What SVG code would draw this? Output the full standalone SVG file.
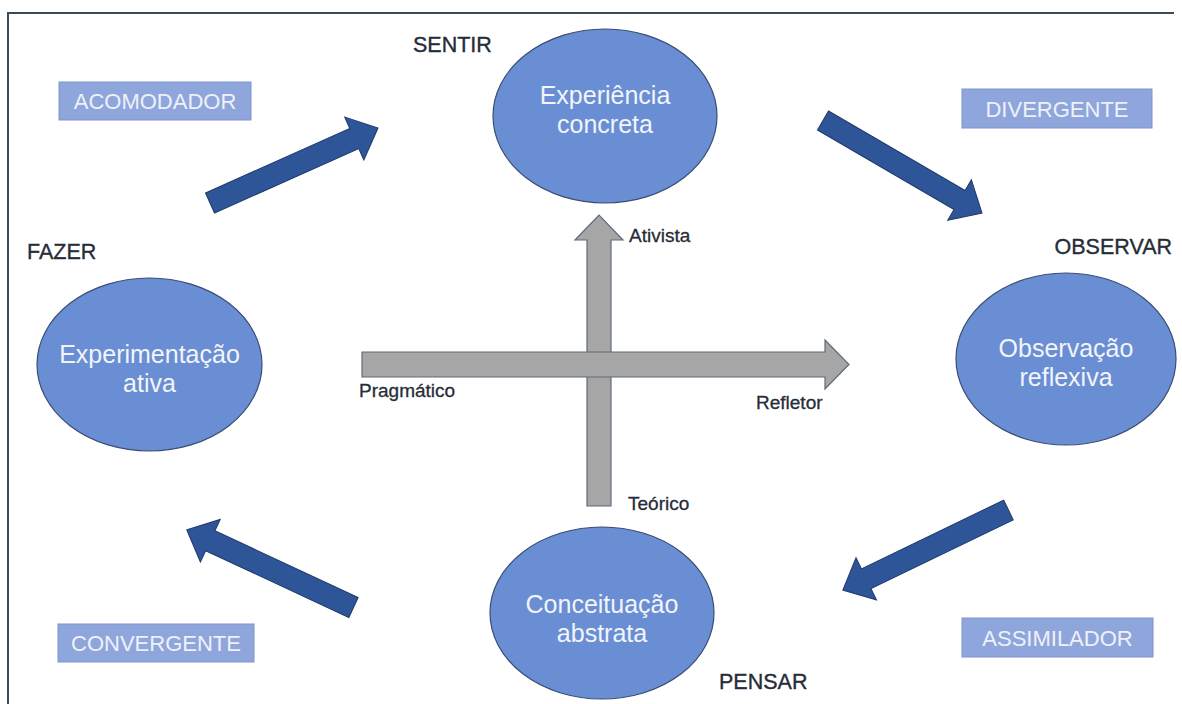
<svg xmlns="http://www.w3.org/2000/svg" width="1182" height="704" viewBox="0 0 1182 704">
<style>
  .frame{stroke:#3b4a5e;stroke-width:2;fill:none}
  .ell{fill:#6a8ed3;stroke:#3a4d74;stroke-width:1.2}
  .etxt{font-family:"Liberation Sans",Arial,sans-serif;font-size:25px;fill:#f2f4fa;text-anchor:middle}
  .box{fill:#8fa6dc;stroke:#7c93cc;stroke-width:1}
  .btxt{font-family:"Liberation Sans",Arial,sans-serif;font-size:22px;fill:#eef1f9;text-anchor:middle}
  .lbl{font-family:"Liberation Sans",Arial,sans-serif;font-size:21.5px;fill:#262c38;stroke:#262c38;stroke-width:0.35}
  .small{font-family:"Liberation Sans",Arial,sans-serif;font-size:19px;fill:#262c38;stroke:#262c38;stroke-width:0.3}
  .barrow{fill:#2e5597;stroke:#1f3a6b;stroke-width:1}
  .garrow{fill:#a6a6a6;stroke:#5f6b7d;stroke-width:1.2}
</style>
<defs>
  <path id="blockArrow" d="M0,-11 L158,-11 L158,-23.5 L184,0 L158,23.5 L158,11 L0,11 Z"/>
</defs>
<rect x="0" y="0" width="1182" height="704" fill="#ffffff"/>
<path class="frame" d="M8,704 L8,13 L1174,13"/>

<g id="connectors">
  <use href="#blockArrow" class="barrow" transform="translate(210,203) rotate(-24.06)"/>
  <use href="#blockArrow" class="barrow" transform="translate(823,120.5) rotate(30.2)"/>
  <use href="#blockArrow" class="barrow" transform="translate(1008.5,510) rotate(154.2)"/>
  <use href="#blockArrow" class="barrow" transform="translate(353.5,607.5) rotate(-155)"/>
  <path class="garrow" d="M587,506 L587,240 L575,240 L599,215 L623,240 L611,240 L611,506 Z"/>
  <path class="garrow" d="M362,352 L825,352 L825,340 L849,364.5 L825,389 L825,377 L362,377 Z"/>
  <text class="small" x="629" y="242">Ativista</text>
  <text class="small" x="359" y="397">Pragmático</text>
  <text class="small" x="756" y="409">Refletor</text>
  <text class="small" x="628" y="510">Teórico</text>
</g>

<g id="node-experiencia">
  <ellipse class="ell" cx="605" cy="116" rx="112" ry="87"/>
  <text class="etxt" x="605" y="104">Experiência</text>
  <text class="etxt" x="605" y="133">concreta</text>
</g>
<g id="node-experimentacao">
  <ellipse class="ell" cx="149.5" cy="364.5" rx="112.5" ry="86.5"/>
  <text class="etxt" x="149.5" y="363">Experimentação</text>
  <text class="etxt" x="149.5" y="392">ativa</text>
</g>
<g id="node-observacao">
  <ellipse class="ell" cx="1066" cy="359" rx="110" ry="86"/>
  <text class="etxt" x="1066" y="357">Observação</text>
  <text class="etxt" x="1066" y="386">reflexiva</text>
</g>
<g id="node-conceituacao">
  <ellipse class="ell" cx="602" cy="613" rx="112" ry="86"/>
  <text class="etxt" x="602" y="613">Conceituação</text>
  <text class="etxt" x="602" y="642">abstrata</text>
</g>

<g id="label-sentir"><text class="lbl" x="413" y="52">SENTIR</text></g>
<g id="label-fazer"><text class="lbl" x="27" y="259">FAZER</text></g>
<g id="label-observar"><text class="lbl" x="1172" y="254" text-anchor="end">OBSERVAR</text></g>
<g id="label-pensar"><text class="lbl" x="719" y="689">PENSAR</text></g>

<g id="box-acomodador">
  <rect class="box" x="59" y="82" width="192" height="38"/>
  <text class="btxt" x="155" y="109">ACOMODADOR</text>
</g>
<g id="box-divergente">
  <rect class="box" x="962" y="89" width="190" height="39"/>
  <text class="btxt" x="1057" y="117">DIVERGENTE</text>
</g>
<g id="box-convergente">
  <rect class="box" x="58" y="624" width="196" height="38"/>
  <text class="btxt" x="156" y="651">CONVERGENTE</text>
</g>
<g id="box-assimilador">
  <rect class="box" x="962" y="618" width="191" height="39"/>
  <text class="btxt" x="1057.5" y="646">ASSIMILADOR</text>
</g>
</svg>
